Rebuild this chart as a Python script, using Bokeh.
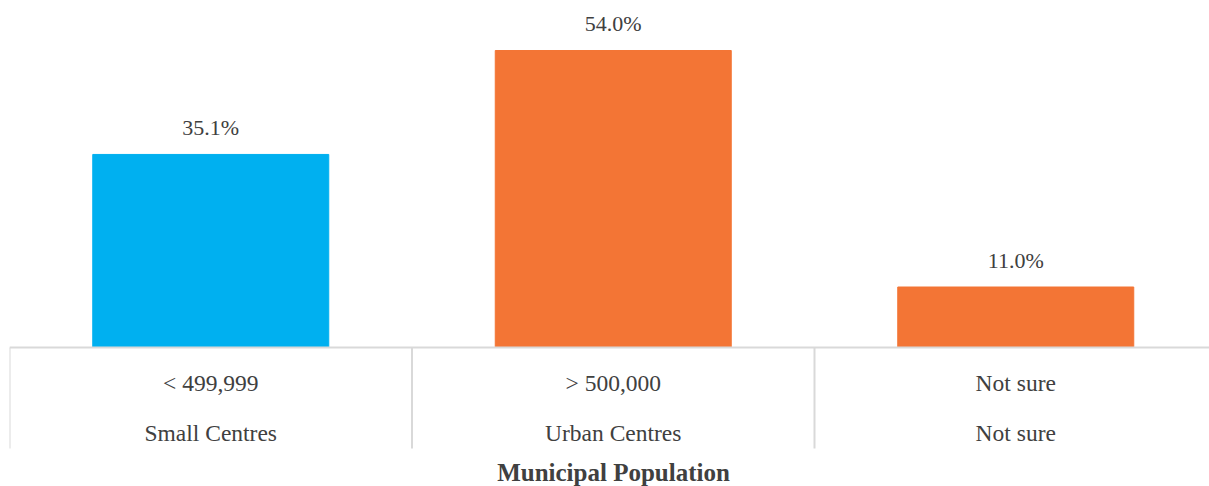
from bokeh.plotting import figure
from bokeh.models import Range1d, ColumnDataSource
from bokeh.core.properties import value
from bokeh.embed import file_html
from bokeh.resources import INLINE

# ---- data ----
groups = ["< 499,999", "> 500,000", "Not sure"]
group_names = ["Small Centres", "Urban Centres", "Not sure"]
percent = [35.1, 54.0, 11.0]
value_labels = ["35.1%", "54.0%", "11.0%"]
bar_colors = ["#00B0F0", "#F37535", "#F37535"]
axis_title = "Municipal Population"

# ---- layout constants ----
PX_PER_UNIT = 5.5          # pixels per percentage point
CAT_PX = 402.5             # pixels per category
W, H = 1209, 486
LEFT = 9
FRAME_W = W - LEFT
BASE_Y = 347               # baseline position in canvas pixels from top
FONT = "Liberation Serif"
TXT = "#404040"
GRID = "#d9d9d9"

y_end = BASE_Y / PX_PER_UNIT
y_start = -(H - BASE_Y) / PX_PER_UNIT

p = figure(width=W, height=H, output_backend="svg", toolbar_location=None,
           x_range=Range1d(0, FRAME_W / CAT_PX), y_range=Range1d(y_start, y_end),
           min_border_left=LEFT, min_border_right=0, min_border_top=0, min_border_bottom=0)
p.axis.visible = False
p.grid.visible = False
p.outline_line_color = None
p.background_fill_color = "white"
p.border_fill_color = "white"

n = len(groups)
xs = [i + 0.5 for i in range(n)]
src = ColumnDataSource(dict(x=xs, top=percent, color=bar_colors, lab=value_labels,
                            g=groups, gn=group_names, zero=[0] * n))

p.vbar(x="x", top="top", bottom=0, width=236 / CAT_PX, color="color", source=src)

# value labels
p.text(x="x", y="top", text="lab", source=src, text_align="center",
       text_baseline="alphabetic", y_offset=-27, text_font=value(FONT),
       text_font_size="22px", text_color=TXT)

# axis line and category separators
sep_bottom = -101 / PX_PER_UNIT
p.segment(x0=[0], y0=[0], x1=[n], y1=[0], line_color=GRID, line_width=2)
p.segment(x0=list(range(n)), y0=[0] * n, x1=list(range(n)), y1=[sep_bottom] * n,
          line_color=GRID, line_width=2)

# category labels (two levels)
p.text(x="x", y="zero", text="g", source=src, text_align="center",
       text_baseline="alphabetic", y_offset=35, text_font=value(FONT),
       text_font_size="23.5px", text_color=TXT)
p.text(x="x", y="zero", text="gn", source=src, text_align="center",
       text_baseline="alphabetic", y_offset=85, text_font=value(FONT),
       text_font_size="23.5px", text_color=TXT)

# axis title
p.text(x=[(613 - LEFT) / CAT_PX], y=[0], text=[axis_title], text_align="center",
       text_baseline="alphabetic", y_offset=125, text_font=value(FONT),
       text_font_size="25px", text_font_style="bold", text_color=TXT)

open("out.html", "w").write(file_html(p, INLINE))
